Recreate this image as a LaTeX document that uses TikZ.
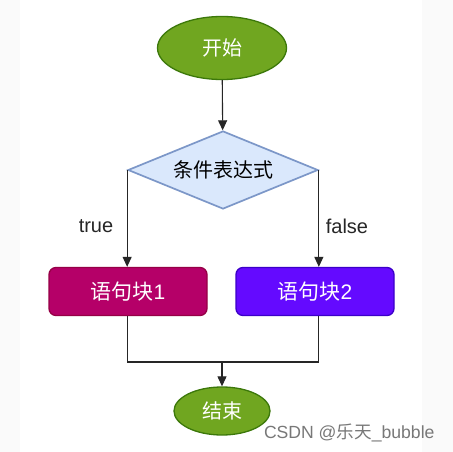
\documentclass[tikz,border=0pt]{standalone}
\usepackage{fontspec}
\setmainfont{Liberation Sans}
\newfontfamily\cjk{Noto Sans CJK SC}
\usetikzlibrary{shapes.geometric,arrows.meta}
\definecolor{gfill}{RGB}{112,166,32}
\definecolor{gline}{RGB}{60,120,10}
\definecolor{dfill}{HTML}{DAE8FC}
\definecolor{dline}{HTML}{7C97C8}
\definecolor{mfill}{RGB}{181,0,104}
\definecolor{mline}{RGB}{150,0,70}
\definecolor{vfill}{RGB}{100,10,255}
\definecolor{vline}{RGB}{60,0,200}
\definecolor{side}{HTML}{FAFAFA}
\definecolor{wm}{RGB}{120,120,120}
\tikzset{
  term/.style={ellipse,draw=gline,fill=gfill,line width=1.3pt,text=white,inner sep=0pt,font=\cjk\fontsize{20}{22}\selectfont},
  cond/.style={diamond,draw=dline,fill=dfill,line width=1.7pt,inner sep=0pt,minimum width=190pt,minimum height=78pt,aspect=2.43,font=\cjk\fontsize{20}{22}\selectfont},
  blk/.style={rectangle,rounded corners=7pt,line width=1.3pt,text=white,minimum width=158pt,minimum height=48pt,inner sep=0pt},
  conn/.style={line width=1.1pt,draw=black!85},
  arr/.style={conn,-{Triangle[length=10pt,width=9pt]}},
  lbl/.style={font=\fontsize{20}{22}\selectfont,text=black!85}
}
\begin{document}
\begin{tikzpicture}[x=1pt,y=-1pt]
\useasboundingbox (0,0) rectangle (453,452);
\fill[white] (0,0) rectangle (453,452);
\fill[side] (0,0) rectangle (20,452);
\fill[side] (422,0) rectangle (453,452);
\node[term,minimum width=129pt,minimum height=63pt] (start) at (222,48) {开始};
\node[cond] (c) at (223,170) {条件表达式};
\node[blk,draw=mline,fill=mfill] (b1) at (128,291.5) {{\cjk\fontsize{21}{23}\selectfont 语句块}{\fontsize{21}{23}\selectfont 1}};
\node[blk,draw=vline,fill=vfill] (b2) at (315,291.5) {{\cjk\fontsize{21}{23}\selectfont 语句块}{\fontsize{21}{23}\selectfont 2}};
\node[term,minimum width=96pt,minimum height=48pt] (end) at (222,411) {结束};
\coordinate (j) at (222,362);
\draw[arr] (start) -- (c);
\draw[arr] (c.west) -- (c.west |- b1.north);
\draw[arr] (c.east) -- (c.east |- b2.north);
\draw[conn] (b1.south -| c.west) |- (j);
\draw[conn] (b2.south -| c.east) |- (j);
\draw[arr] (j) -- (end);
\node[lbl] (t) at (96,226) {true};
\node[lbl] (f) at (347,226) {false};
\node[text=wm,font=\fontsize{17.6}{19}\selectfont,anchor=east] (w) at (438,433) {CSDN @{\cjk 乐天}\_bubble};
\end{tikzpicture}
\end{document}
